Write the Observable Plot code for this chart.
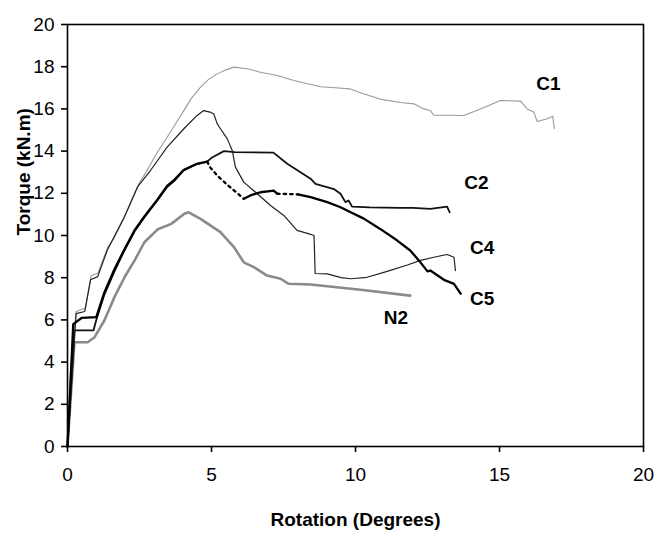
<!DOCTYPE html>
<html>
<head>
<meta charset="utf-8">
<script src="https://cdn.jsdelivr.net/npm/d3@7"></script>
<script src="https://cdn.jsdelivr.net/npm/@observablehq/plot@0.6"></script>
<style>
  html, body { margin: 0; padding: 0; background: #fff; }
  #chart { width: 656px; height: 534px; }
</style>
</head>
<body>
<div id="chart"></div>
<script>
// Data: [rotation (deg), torque (kN.m)]
const c1 = [[0,0],[0.1,3.5],[0.3,6.4],[0.62,6.55],[0.82,8.1],[1.05,8.2],[1.4,9.45],[1.63,9.9],[1.98,10.87],[2.25,11.7],[2.5,12.5],[2.77,13.1],[3.1,13.9],[3.46,14.66],[3.8,15.4],[4.04,15.92],[4.3,16.5],[4.62,17.03],[4.9,17.4],[5.2,17.66],[5.5,17.85],[5.78,17.98],[6.24,17.9],[6.7,17.74],[7.28,17.58],[7.86,17.35],[8.3,17.2],[8.8,17.05],[9.3,17.0],[9.8,16.95],[10.2,16.75],[10.9,16.45],[11.56,16.3],[12.03,16.24],[12.37,16.0],[12.6,15.92],[12.72,15.7],[13.2,15.7],[13.76,15.69],[14.34,16.0],[15.03,16.4],[15.73,16.37],[15.96,16.0],[16.19,15.85],[16.31,15.4],[16.66,15.53],[16.85,15.65],[16.9,15.06]];
const c2 = [[0,0],[0.24,5.5],[0.9,5.5],[1.0,6.0],[1.28,7.2],[1.63,8.3],[1.98,9.3],[2.33,10.2],[2.67,10.87],[3.12,11.66],[3.46,12.3],[3.72,12.6],[4.03,13.1],[4.5,13.4],[4.85,13.5],[5.02,13.7],[5.43,14.0],[5.8,13.95],[7.15,13.93],[7.63,13.4],[8.09,13.0],[8.44,12.69],[8.61,12.45],[9.25,12.2],[9.48,11.98],[9.65,11.58],[9.76,11.66],[9.88,11.37],[10.5,11.33],[11.56,11.31],[12.0,11.31],[12.6,11.26],[13.18,11.37],[13.27,11.1]];
const c4 = [[0,0],[0.3,6.3],[0.6,6.4],[0.8,7.9],[1.05,8.05],[1.38,9.3],[1.98,10.9],[2.43,12.3],[2.88,13.08],[3.46,14.19],[4.04,15.06],[4.5,15.69],[4.73,15.92],[4.95,15.85],[5.08,15.76],[5.2,15.29],[5.31,15.06],[5.55,14.58],[5.72,14.03],[5.83,13.24],[6.12,12.53],[6.59,11.98],[7.05,11.42],[7.51,10.95],[7.97,10.24],[8.39,10.08],[8.56,10.0],[8.6,8.2],[9.02,8.18],[9.5,8.0],[9.83,7.95],[10.4,8.02],[11.1,8.3],[11.8,8.6],[12.26,8.82],[12.72,8.97],[13.18,9.1],[13.42,8.97],[13.47,8.34]];
const c5 = [[0,0],[0.2,5.8],[0.5,6.1],[1.0,6.13],[1.28,7.3],[1.63,8.4],[1.98,9.35],[2.33,10.25],[2.67,10.9],[3.12,11.7],[3.46,12.35],[3.72,12.65],[4.03,13.1],[4.5,13.4],[4.85,13.5],[4.97,13.2],[5.2,12.84],[5.55,12.4],[5.9,12.0],[6.12,11.74],[6.35,11.9],[6.7,12.05],[7.16,12.13],[7.28,11.98],[8.0,11.95],[8.44,11.82],[9.02,11.58],[9.48,11.34],[9.83,11.1],[10.29,10.8],[10.87,10.3],[11.45,9.76],[11.9,9.29],[12.2,8.82],[12.5,8.3],[12.6,8.34],[13.07,7.9],[13.42,7.71],[13.65,7.24]];
const n2 = [[0,0],[0.24,4.94],[0.7,4.94],[0.94,5.18],[1.28,5.97],[1.63,7.08],[1.98,8.02],[2.33,8.82],[2.67,9.68],[3.14,10.3],[3.6,10.55],[4.06,11.03],[4.21,11.1],[4.62,10.79],[5.31,10.16],[5.78,9.45],[6.12,8.73],[6.47,8.5],[6.93,8.1],[7.4,7.95],[7.68,7.71],[8.44,7.68],[10.17,7.43],[11.9,7.15]];

const labelNames = ["C1", "C2", "C4", "C5", "N2"];
const labelX = [16.7, 14.2, 14.4, 14.4, 11.4];
const labelY = [17.2, 12.5, 9.4, 7.0, 6.1];

const xTicks = [0, 5, 10, 15, 20];
const yTicks = [0, 2, 4, 6, 8, 10, 12, 14, 16, 18, 20];

const labels = labelNames.map((n, i) => ({name: n, x: labelX[i], y: labelY[i]}));
const X = d => d[0], Y = d => d[1];
const inRange = (a, b) => d => d[0] >= a && d[0] <= b;
// C5 drawn with dotted stretches
const c5Solid = [c5.filter(inRange(0, 4.85)), c5.filter(inRange(6.12, 7.28)), c5.filter(inRange(8.0, 20))];
const c5Dotted = [c5.filter(inRange(4.85, 6.12)), c5.filter(inRange(7.28, 8.0))];

const font = "'Liberation Sans Narrow', 'Arial Narrow', 'Liberation Sans', Arial, sans-serif";

const chart = Plot.plot({
  width: 656,
  height: 534,
  marginLeft: 67,
  marginRight: 13,
  marginTop: 24,
  marginBottom: 88,
  style: {fontFamily: font, fontSize: "19px", color: "#000", background: "#fff"},
  x: {domain: [0, 20]},
  y: {domain: [0, 20]},
  marks: [
    Plot.line(c1, {x: X, y: Y, stroke: "#9a9a9a", strokeWidth: 1.1}),
    Plot.line(n2, {x: X, y: Y, stroke: "#8a8a8a", strokeWidth: 2.6}),
    Plot.line(c2, {x: X, y: Y, stroke: "#111", strokeWidth: 1.8}),
    Plot.line(c4, {x: X, y: Y, stroke: "#222", strokeWidth: 1.2}),
    ...c5Solid.map(seg => Plot.line(seg, {x: X, y: Y, stroke: "#000", strokeWidth: 2.3})),
    ...c5Dotted.map(seg => Plot.line(seg, {x: X, y: Y, stroke: "#000", strokeWidth: 2.3, strokeDasharray: "2.5,4"})),
    Plot.frame({stroke: "#000", strokeWidth: 1.6}),
    Plot.axisX({ticks: xTicks, tickSize: 6, tickPadding: 15, label: null, strokeWidth: 1.6, fontSize: 19}),
    Plot.axisY({ticks: yTicks, tickSize: 6, tickPadding: 7, label: null, strokeWidth: 1.6, fontSize: 19}),
    Plot.text(["Rotation (Degrees)"], {frameAnchor: "bottom", dy: 79, fontWeight: "bold", fontSize: 19, fill: "#000"}),
    Plot.text(["Torque (kN.m)"], {frameAnchor: "left", dx: -44, rotate: -90, fontWeight: "bold", fontSize: 19, fill: "#000"}),
    Plot.text(labels, {x: "x", y: "y", text: "name", fontWeight: "bold", fontSize: 19, fill: "#000"})
  ]
});
document.getElementById("chart").appendChild(chart);
</script>
</body>
</html>
